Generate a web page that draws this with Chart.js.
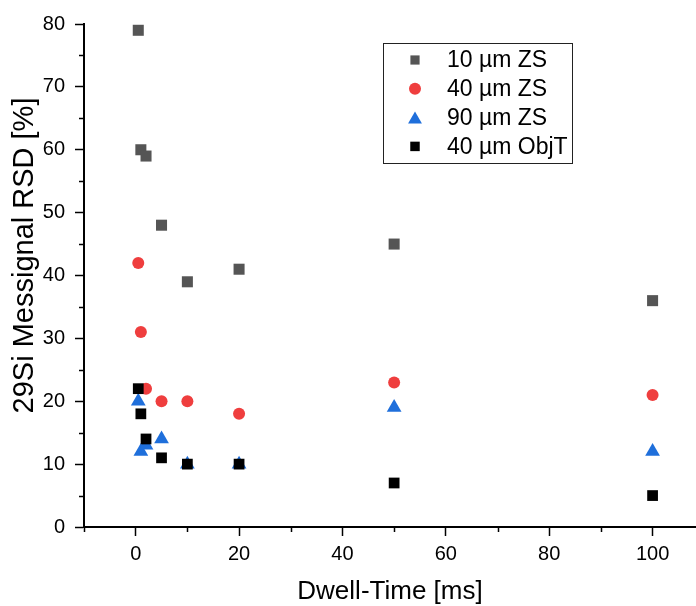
<!DOCTYPE html>
<html><head><meta charset="utf-8">
<script src="https://cdn.jsdelivr.net/npm/chart.js@4/dist/chart.umd.min.js"></script>
<style>html,body{margin:0;padding:0;background:#fff;overflow:hidden}#wrap{width:696px;height:606px}</style>
</head><body><div id="wrap"><canvas id="c" width="696" height="606"></canvas></div>
<script>
// ---- data ----
const dwellTimes = [0.5, 1, 2, 5, 10, 20, 50, 100];
const rsd10ZS   = [79, 60, 59, 48, 39, 41, 45, 36];
const rsd40ZS   = [42, 31, 22, 20, 20, 18, 23, 21];
const rsd90ZS   = [20, 12, 13, 14, 10, 10, 19, 12];
const rsd40ObjT = [22, 18, 14, 11, 10, 10, 7, 5];
const seriesNames = ['10 µm ZS', '40 µm ZS', '90 µm ZS', '40 µm ObjT'];
const xTickValues = [0, 20, 40, 60, 80, 100];
const xMinorTicks = [-10, 10, 30, 50, 70, 90];
const yTickValues = [0, 10, 20, 30, 40, 50, 60, 70, 80];
const yMinorTicks = [5, 15, 25, 35, 45, 55, 65, 75];
const xTitle = 'Dwell-Time [ms]';
const yTitle = '29Si Messignal RSD [%]';

// ---- styles ----
const FONT = "'Liberation Sans', Arial, Helvetica, sans-serif";
const colors = ['#555555', '#EF3E3E', '#1F6FDB', '#000000'];
const styles = ['rect', 'circle', 'triangle', 'rect'];
const radii = [7.8, 6, 8.5, 7.6];
const legendRadii = [6.5, 6, 8, 6.7];

function pts(ys) { return dwellTimes.map((x, i) => ({x: x, y: ys[i]})); }
const seriesValues = [rsd10ZS, rsd40ZS, rsd90ZS, rsd40ObjT];

const datasets = seriesValues.map((ys, i) => ({
  label: seriesNames[i],
  data: pts(ys),
  pointStyle: styles[i],
  pointRadius: radii[i],
  pointHoverRadius: radii[i],
  pointBackgroundColor: colors[i],
  pointBorderColor: colors[i],
  pointBorderWidth: 0,
  backgroundColor: colors[i],
  borderColor: colors[i],
  showLine: false,
  order: 4 - i
}));

function drawMarker(ctx, style, r, x, y, color) {
  ctx.save();
  ctx.fillStyle = color;
  ctx.beginPath();
  if (style === 'circle') {
    ctx.arc(x, y, r, 0, Math.PI * 2);
  } else if (style === 'triangle') {
    ctx.moveTo(x, y - r);
    ctx.lineTo(x + r * Math.sin(2 * Math.PI / 3), y + r / 2);
    ctx.lineTo(x - r * Math.sin(2 * Math.PI / 3), y + r / 2);
    ctx.closePath();
  } else {
    const s = r * Math.SQRT1_2;
    ctx.rect(x - s, y - s, 2 * s, 2 * s);
  }
  ctx.fill();
  ctx.restore();
}

const decor = {
  id: 'decor',
  afterDraw(chart) {
    const ctx = chart.ctx;
    const xs = chart.scales.x, ys = chart.scales.y;
    ctx.save();
    // minor ticks
    ctx.strokeStyle = '#000';
    ctx.lineWidth = 1.5;
    ctx.beginPath();
    xMinorTicks.forEach(v => {
      const px = Math.round(xs.getPixelForValue(v)) + 0.5;
      ctx.moveTo(px, ys.bottom); ctx.lineTo(px, ys.bottom + 5);
    });
    yMinorTicks.forEach(v => {
      const py = Math.round(ys.getPixelForValue(v)) + 0.5;
      ctx.moveTo(xs.left, py); ctx.lineTo(xs.left - 5, py);
    });
    ctx.stroke();
    // y title
    ctx.fillStyle = '#000';
    ctx.font = '29px ' + FONT;
    ctx.textAlign = 'center';
    ctx.textBaseline = 'middle';
    ctx.translate(25, 255.5);
    ctx.rotate(-Math.PI / 2);
    ctx.fillText(yTitle, 0, 0);
    ctx.restore();
    // legend
    ctx.save();
    ctx.strokeStyle = '#222';
    ctx.lineWidth = 1;
    ctx.strokeRect(383.5, 43.5, 189, 120);
    ctx.font = '23px ' + FONT;
    ctx.fillStyle = '#000';
    ctx.textAlign = 'left';
    ctx.textBaseline = 'middle';
    chart.data.datasets.forEach((ds, i) => {
      const y = 60 + i * 28.8;
      const my = ds.pointStyle === 'triangle' ? y + 2 : y;
      drawMarker(ctx, ds.pointStyle, legendRadii[i], 415, my, ds.pointBackgroundColor);
      ctx.fillStyle = '#000';
      ctx.fillText(ds.label, 447, y + 1);
    });
    ctx.restore();
  }
};

new Chart(document.getElementById('c'), {
  type: 'scatter',
  data: { datasets: datasets },
  options: {
    responsive: false,
    animation: false,
    devicePixelRatio: 1,
    layout: { autoPadding: false, padding: { top: 24, right: 0, left: 0, bottom: 0 } },
    plugins: { legend: { display: false }, tooltip: { enabled: false } },
    scales: {
      x: {
        type: 'linear', min: -10, max: 108.4,
        afterBuildTicks: s => { s.ticks = xTickValues.map(v => ({ value: v })); },
        afterFit: s => { s.height = 79; },
        grid: { drawOnChartArea: false, drawTicks: true, tickLength: 9, tickWidth: 1.5, tickColor: '#000' },
        border: { display: true, color: '#000', width: 2 },
        ticks: { color: '#000', font: { family: FONT, size: 20 }, padding: 6, maxRotation: 0, autoSkip: false },
        title: { display: true, text: xTitle, color: '#000', font: { family: FONT, size: 26, lineHeight: 1 }, padding: { top: 0, bottom: 1 } }
      },
      y: {
        type: 'linear', min: 0, max: 80,
        afterBuildTicks: s => { s.ticks = yTickValues.map(v => ({ value: v })); },
        afterFit: s => { s.width = 84; },
        grid: { drawOnChartArea: false, drawTicks: true, tickLength: 9, tickWidth: 1.5, tickColor: '#000' },
        border: { display: true, color: '#000', width: 2 },
        ticks: { color: '#000', font: { family: FONT, size: 20 }, padding: 10, autoSkip: false },
        title: { display: false, text: yTitle }
      }
    }
  },
  plugins: [decor]
});
</script>
</body></html>
